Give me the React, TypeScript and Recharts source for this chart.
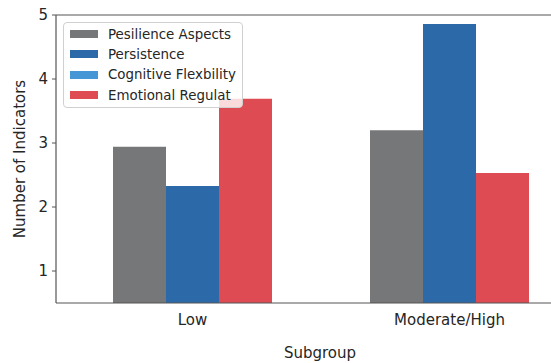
import React from 'react';
import { BarChart, Bar, XAxis, YAxis, ReferenceLine } from 'recharts';

const categories = ['Low', 'Moderate/High'];
const resilienceAspects = [2.94, 3.2];
const persistence = [2.33, 4.86];
const emotionalRegulation = [3.69, 2.53];
const yTicks = [1, 2, 3, 4, 5];

const legendNames = ['Pesilience Aspects', 'Persistence', 'Cognitive Flexbility', 'Emotional Regulat'];
const legendColors = ['#767778', '#2c69a8', '#4597d5', '#de4b52'];

const data = categories.map((name, i) => ({
  name,
  resilience: resilienceAspects[i],
  persistence: persistence[i],
  emotional: emotionalRegulation[i],
}));

const FONT = '"DejaVu Sans", sans-serif';
const AXIS = '#555';
const TEXT = '#262626';

const LegendBox = () => (
  <div
    style={{
      position: 'absolute',
      left: 63,
      top: 22,
      background: 'rgba(255,255,255,0.8)',
      border: '1px solid #d0d0d0',
      borderRadius: 4,
      padding: '1px 6px 2px 6px',
      fontFamily: FONT,
      fontSize: 13.4,
      color: TEXT,
    }}
  >
    {legendNames.map((n, i) => (
      <div key={n} style={{ display: 'flex', alignItems: 'center', height: 20.3 }}>
        <span style={{ width: 28, height: 8, background: legendColors[i], marginRight: 10 }} />
        <span style={{ whiteSpace: 'nowrap' }}>{n}</span>
      </div>
    ))}
  </div>
);

export default function App() {
  return (
    <div style={{ position: 'fixed', left: 0, top: 0, width: 551, height: 363, overflow: 'hidden', background: '#fff' }}>
      <BarChart
        width={590}
        height={363}
        data={data}
        margin={{ top: 15, right: 6, bottom: 0, left: 0 }}
        barCategoryGap={49}
        barGap={0}
      >
        <XAxis
          dataKey="name"
          height={60}
          padding={{ left: 8, right: 6 }}
          tickSize={0}
          tickMargin={11}
          tickLine={false}
          axisLine={{ stroke: AXIS, strokeWidth: 1.2 }}
          tick={{ fill: TEXT, fontSize: 15, fontFamily: FONT }}
          label={{ value: 'Subgroup', position: 'insideBottom', offset: 5, fill: TEXT, fontSize: 15, fontFamily: FONT }}
        />
        <YAxis
          width={56}
          domain={[0.5, 5]}
          ticks={yTicks}
          tickSize={4}
          tickMargin={4}
          axisLine={{ stroke: AXIS, strokeWidth: 1.2 }}
          tickLine={{ stroke: AXIS }}
          tick={{ fill: TEXT, fontSize: 15, fontFamily: FONT }}
          label={{ value: 'Number of Indicators', angle: -90, position: 'center', dx: -8, fill: TEXT, fontSize: 15, fontFamily: FONT }}
        />
        <ReferenceLine y={5} stroke={AXIS} strokeWidth={1.2} />
        <Bar dataKey="resilience" fill={legendColors[0]} isAnimationActive={false} />
        <Bar dataKey="persistence" fill={legendColors[1]} isAnimationActive={false} />
        <Bar dataKey="emotional" fill={legendColors[3]} isAnimationActive={false} />
      </BarChart>
      <LegendBox />
    </div>
  );
}
